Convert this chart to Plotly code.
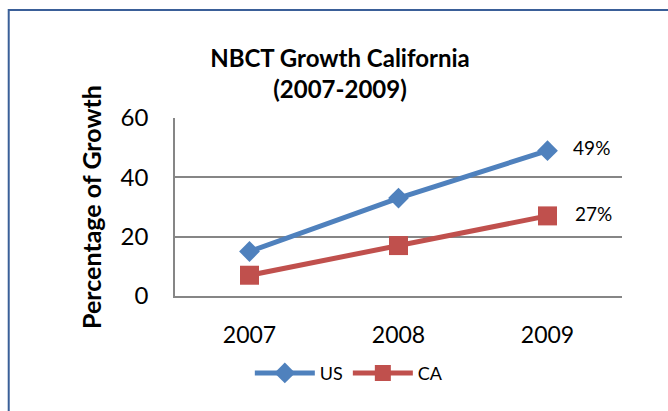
import plotly.graph_objects as go

years = ["2007", "2008", "2009"]
us_values = [15, 33, 49]
ca_values = [7, 17, 27]
us_labels = ["", "", "\u00a0\u00a0\u00a049%"]
ca_labels = ["", "", "\u00a0\u00a0\u00a027%"]
y_ticks = [0, 20, 40, 60]

FONT = "Lato, sans-serif"

fig = go.Figure()
fig.add_trace(go.Scatter(
    x=years, y=us_values, name="US", mode="lines+markers+text",
    line=dict(color="#4F81BD", width=5),
    marker=dict(symbol="diamond", size=16, color="#4F81BD"),
    text=us_labels, textposition="middle right", cliponaxis=False,
    textfont=dict(size=19, color="#000000", family=FONT),
))
fig.add_trace(go.Scatter(
    x=years, y=ca_values, name="CA", mode="lines+markers+text",
    line=dict(color="#C0504D", width=5),
    marker=dict(symbol="square", size=19, color="#C0504D"),
    text=ca_labels, textposition="middle right", cliponaxis=False,
    textfont=dict(size=19, color="#000000", family=FONT),
))

# chart border (extends past right/bottom edges as in the cropped reference)
fig.add_shape(type="rect", xref="paper", yref="paper",
              x0=-0.372, x1=2.0, y0=-2.0, y1=1.607,
              line=dict(color="#3A5F98", width=2), fillcolor="rgba(0,0,0,0)",
              layer="below")

fig.update_layout(
    width=668, height=411,
    margin=dict(l=175, r=46, t=118, b=115),
    paper_bgcolor="white", plot_bgcolor="white",
    font=dict(family=FONT, color="#000000"),
    title=dict(text="<b>NBCT Growth California<br>(2007-2009)</b>",
               x=0.509, xanchor="center", y=0.838, yanchor="middle",
               font=dict(size=24, family=FONT)),
    showlegend=True,
    legend=dict(orientation="h", x=0.39, xanchor="center", y=-0.33, yanchor="top",
                font=dict(size=18), itemwidth=60, tracegroupgap=0,
                bgcolor="rgba(0,0,0,0)"),
    xaxis=dict(type="category", range=[-0.5, 2.5], autorange=False, automargin=False,
               showgrid=False, showline=True, linecolor="#868686",
               linewidth=1.5, ticks="", tickfont=dict(size=23), ticklabelstandoff=18,
               zeroline=False),
    yaxis=dict(range=[0, 60], autorange=False, automargin=False, tickvals=y_ticks,
               showgrid=True, gridcolor="#868686",
               gridwidth=1.5, showline=True, linecolor="#868686", linewidth=1.5,
               ticks="", tickfont=dict(size=24), ticklabelstandoff=20, zeroline=False,
               title=dict(text="<b>Percentage of Growth</b>", font=dict(size=25),
                          standoff=12)),
)

fig.write_html("out.html", config={"displayModeBar": False},
               post_script="document.body.style.margin='0';")
